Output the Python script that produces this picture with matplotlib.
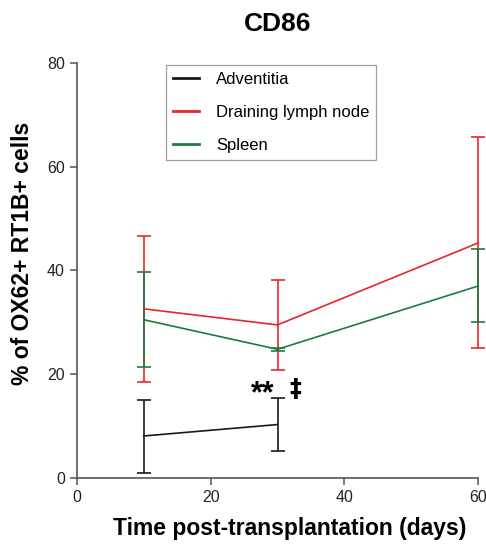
import matplotlib
matplotlib.use("Agg")
import matplotlib.pyplot as plt
from matplotlib.lines import Line2D

plt.rcParams['font.family'] = ['Liberation Sans', 'DejaVu Sans']

# --- data ---
days_adv = [10, 30]
adv_mean = [8.1, 10.3]
adv_lo = [1.0, 5.3]
adv_hi = [15.1, 15.4]

days = [10, 30, 60]
dln_mean = [32.6, 29.5, 45.3]
dln_lo = [18.5, 20.9, 25.0]
dln_hi = [46.7, 38.1, 65.7]

spl_mean = [30.5, 24.8, 37.0]
spl_lo = [21.4, 24.5, 30.0]
spl_hi = [39.6, 25.1, 44.2]

x_ticks = [0, 20, 40, 60]
y_ticks = [0, 20, 40, 60, 80]


def yerr(mean, lo, hi):
    return [[m - l for m, l in zip(mean, lo)], [h - m for m, h in zip(mean, hi)]]


fig = plt.figure(figsize=(4.86, 5.46), dpi=100)
ax = fig.add_axes([0.158, 0.1245, 0.826, 0.7605])

series = [
    (days_adv, adv_mean, adv_lo, adv_hi, '#1a1a1a', 'Adventitia'),
    (days, dln_mean, dln_lo, dln_hi, '#e8262c', 'Draining lymph node'),
    (days, spl_mean, spl_lo, spl_hi, '#1e7a43', 'Spleen'),
]
handles = []
for x, m, lo, hi, c, lab in series:
    eb = ax.errorbar(x, m, yerr=yerr(m, lo, hi), color=c, lw=1.2, elinewidth=1.2,
                     capsize=5, capthick=1.2)
    for art in eb.get_children():
        art.set_clip_on(False)
    handles.append(Line2D([], [], color=c, lw=2, label=lab))

# significance marks above day 30
ax.text(27.8, 14.6, '**', fontsize=22, fontweight='bold', ha='center', va='baseline')
ax.text(32.6, 17.1, '\u2021', fontsize=17, fontweight='bold', ha='center', va='center',
        family=['DejaVu Sans'])

ax.set_xlim(0, 60)
ax.set_ylim(0, 80)
ax.set_xticks(x_ticks)
ax.set_yticks(y_ticks)
ax.spines['top'].set_visible(False)
ax.spines['right'].set_visible(False)
for s in ('left', 'bottom'):
    ax.spines[s].set_color('#555555')
    ax.spines[s].set_linewidth(1.2)
ax.tick_params(colors='#555555', labelcolor='#222222', labelsize=11.5, length=5, width=1.1)
ax.set_xlabel('Time post-transplantation (days)', fontsize=16.5, fontweight='bold')
ax.xaxis.set_label_coords(0.531, -0.095)
ax.set_ylabel('% of OX62+ RT1B+ cells', fontsize=16.5, fontweight='bold')
ax.yaxis.set_label_coords(-0.107, 0.54)
ax.set_title('CD86', fontsize=19, fontweight='bold', pad=23)

leg = ax.legend(handles=handles, loc='upper left', bbox_to_anchor=(0.222, 0.995),
                borderaxespad=0, fontsize=12, frameon=True, fancybox=False,
                edgecolor='#888888', handlelength=1.6, labelspacing=1.1,
                borderpad=0.4, handletextpad=1.0)
leg.get_frame().set_linewidth(0.9)

fig.savefig('out.png', dpi=100)
